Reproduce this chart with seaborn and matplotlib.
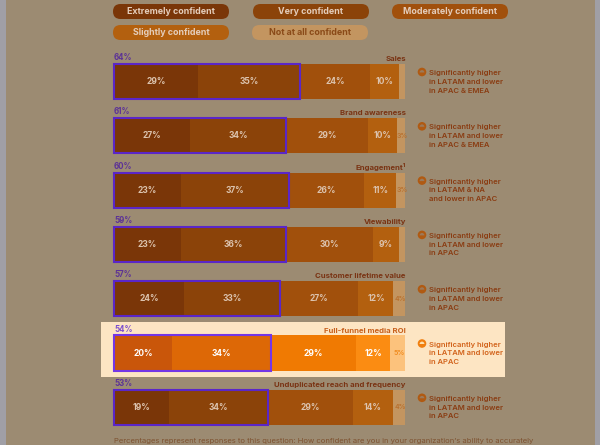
import matplotlib
matplotlib.use("Agg")
import matplotlib.pyplot as plt
import seaborn as sns
import pandas as pd
import numpy as np
from matplotlib.patches import FancyBboxPatch, Rectangle, Circle, Wedge

# ---------------- data ----------------
categories = ["Sales", "Brand awareness", "Engagement\u00b9", "Viewability",
              "Customer lifetime value", "Full-funnel media ROI",
              "Unduplicated reach and frequency"]
levels = ["Extremely confident", "Very confident", "Moderately confident",
          "Slightly confident", "Not at all confident"]
extremely = [29, 27, 23, 23, 24, 20, 19]
very = [35, 34, 37, 36, 33, 34, 34]
moderately = [24, 29, 26, 30, 27, 29, 29]
slightly = [10, 10, 11, 9, 12, 12, 14]
not_at_all = [2, 3, 3, 2, 4, 5, 4]
notes = [
    ["Significantly higher", "in LATAM and lower", "in APAC & EMEA"],
    ["Significantly higher", "in LATAM and lower", "in APAC & EMEA"],
    ["Significantly higher", "in LATAM & NA", "and lower in APAC"],
    ["Significantly higher", "in LATAM and lower", "in APAC"],
    ["Significantly higher", "in LATAM and lower", "in APAC"],
    ["Significantly higher", "in LATAM and lower", "in APAC"],
    ["Significantly higher", "in LATAM and lower", "in APAC"],
]
highlight = "Full-funnel media ROI"
footer = ("Percentages represent responses to this question: How confident are you "
          "in your organization\u2019s ability to accurately")

# ---------------- style ----------------
bright = ["#c9560a", "#dd6806", "#f07a02", "#fb8c12", "#fcc27c"]
dim = ["#7a3608", "#8b4309", "#a1500c", "#b3600f", "#c39560"]
BG_DIM = "#9c8b72"
BG_HI = "#fde5c3"

sns.set_theme(style="white")
plt.rcParams["font.family"] = ["Inter", "DejaVu Sans"]

W, H = 600, 445
X0, XS = 114, 2.91      # px of 0 %, px per %
Y0, YS = 81.5, 54.3     # px of first row centre, px per row
BH = 0.645              # bar thickness (rows)


def dx(px):
    return (px - X0) / XS


def dy(py):
    return (py - Y0) / YS


fig = plt.figure(figsize=(W / 100, H / 100), dpi=100, facecolor=BG_DIM)
dax = fig.add_axes([0, 0, 1, 1], zorder=0)
dax.set_xlim(0, W)
dax.set_ylim(H, 0)
dax.axis("off")
ax = fig.add_axes([0, 0, 1, 1], zorder=1)
ax.patch.set_alpha(0)

# side strips and highlight panel
dax.add_patch(Rectangle((0, 0), 6, H, color="#a09fa6", lw=0))
dax.add_patch(Rectangle((595, 0), 5, H, color="#a09fa6", lw=0))
hi_idx = categories.index(highlight)
hc = Y0 + YS * hi_idx
dax.add_patch(Rectangle((101, hc - 31.5), 404, 55, color=BG_HI, lw=0))

# ---------------- stacked bars ----------------
raw = np.array([extremely, very, moderately, slightly, not_at_all], dtype=float)
totals = raw.sum(axis=0)
widths = raw / totals * 100
cum = np.cumsum(widths, axis=0)

df = pd.DataFrame({"category": categories})
for k in range(len(levels) - 1, -1, -1):
    df["x"] = cum[k]
    pal = [bright[k] if c == highlight else dim[k] for c in categories]
    sns.barplot(data=df, x="x", y="category", hue="category", palette=pal,
                order=categories, hue_order=categories, orient="h",
                width=BH, saturation=1, dodge=False, legend=False,
                linewidth=0, ax=ax)

ax.set_xlim(dx(0), dx(W))
ax.set_ylim(dy(H), dy(0))
ax.axis("off")

for i, cat in enumerate(categories):
    hi = cat == highlight
    # segment labels
    for k in range(len(levels)):
        v = raw[k, i]
        if v < 3:
            continue
        xc = cum[k, i] - widths[k, i] / 2
        if k == 4:
            col = "#f08a1c" if hi else "#b8702e"
            ax.text(xc + 0.4, i, f"{int(v)}%", ha="center", va="center",
                    fontsize=5.0, color=col, fontweight="semibold")
        else:
            col = "white" if hi else "#dcc3ae"
            ax.text(xc, i, f"{int(v)}%", ha="center", va="center",
                    fontsize=6.1, color=col, fontweight="bold")
    # purple outline around top-2 box
    top2 = cum[1, i]
    pcol = "#7436e6" if hi else "#5a26c8"
    ax.add_patch(Rectangle((0, i - BH / 2), top2, BH, fill=False,
                           edgecolor=pcol, lw=1.5, zorder=5))
    ax.text(0, i - BH / 2 - 0.035, f"{int(raw[0, i] + raw[1, i])}%",
            ha="left", va="bottom", fontsize=5.7, fontweight="bold",
            color="#7a4ed0" if hi else "#5c3296")
    ax.text(100.3, i - BH / 2 - 0.035, cat, ha="right", va="bottom",
            fontsize=5.6, fontweight="bold",
            color="#c8601c" if hi else "#7a3414")
    # notes with icon
    rc = Y0 + YS * i
    icol = "#f07f10" if hi else "#b05a12"
    ncol = "#d2621a" if hi else "#8a3c12"
    dax.add_patch(Circle((422, rc - 9.5), 4.3, color=icol, lw=0, zorder=3))
    dax.add_patch(Wedge((422, rc - 9.0), 2.4, 180, 360,
                        color="#fde0b0" if hi else "#9c7a5a", lw=0, zorder=4))
    for j, line in enumerate(notes[i]):
        dax.text(429, rc - 8.3 + j * 8.7, line, ha="left", va="center",
                 fontsize=5.5, fontweight="semibold", color=ncol)

# ---------------- legend pills ----------------
pill_pos = [(171, 11.5), (311, 11.5), (450, 11.5), (171, 32.5), (310, 32.5)]
for k, (lab, (cx, cy)) in enumerate(zip(levels, pill_pos)):
    pw, ph = 116, 15
    dax.add_patch(FancyBboxPatch((cx - pw / 2, cy - ph / 2), pw, ph,
                                 boxstyle="round,pad=0,rounding_size=7.5",
                                 fc=dim[k], ec="none", zorder=2))
    tcol = "#8a4a18" if k == 4 else "#e4cdbb"
    dax.text(cx, cy + 0.3, lab, ha="center", va="center", fontsize=6.4,
             fontweight="bold", color=tcol, zorder=3)

# footer at the bottom edge
dax.text(114, 441.5, footer, ha="left", va="center", fontsize=5.5,
         color="#7e5230")

fig.savefig("out.png", dpi=100, facecolor=BG_DIM)
